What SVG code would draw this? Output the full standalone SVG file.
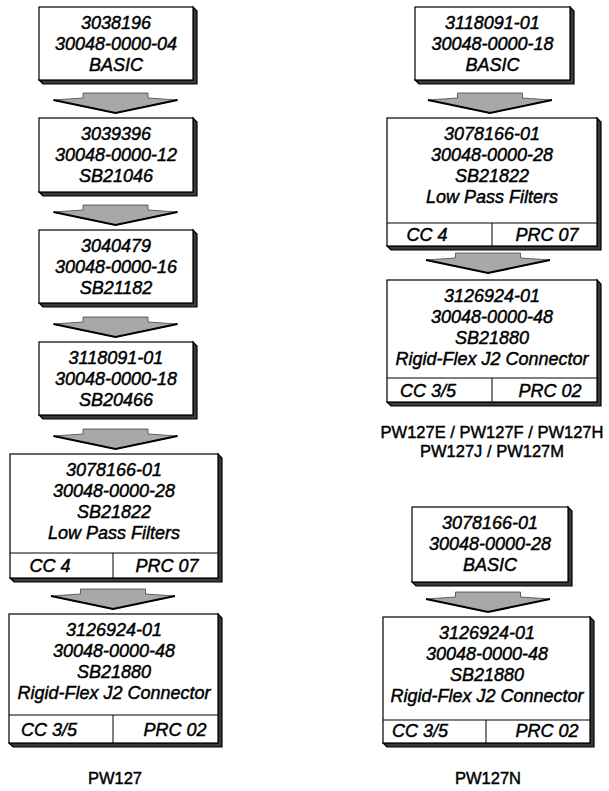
<svg xmlns="http://www.w3.org/2000/svg" width="609" height="791" viewBox="0 0 609 791">
<style>
.bx{fill:#fff;stroke:#000;stroke-width:1.2}
.sh{fill:#3a3a3a;stroke:#000;stroke-width:1.2;stroke-linejoin:miter}
.dv{stroke:#000;stroke-width:1;fill:none}
.t{font-family:"Liberation Sans",Arial,sans-serif;font-style:italic;font-size:18px;fill:#000;stroke:#000;stroke-width:0.45;text-anchor:middle}
.lb{font-family:"Liberation Sans",Arial,sans-serif;font-size:16.5px;fill:#000;stroke:#000;stroke-width:0.45;text-anchor:middle}
.ar{fill:#a8a8a8;stroke:#444;stroke-width:0.8;stroke-linejoin:miter}
.ae{fill:none;stroke:#000;stroke-width:2}
</style>
<rect width="609" height="791" fill="#fff"/>

<g id="connectors">
  <g transform="translate(115.5,93)"><path class="ar" d="M-32.5,0 H32.5 V5 L62,7 L0,20 L-62,7 L-32.5,5 Z"/><path class="ae" d="M-62,7 L0,20 L62,7"/></g>
  <g transform="translate(115.5,205)"><path class="ar" d="M-32.5,0 H32.5 V5 L62,7 L0,20 L-62,7 L-32.5,5 Z"/><path class="ae" d="M-62,7 L0,20 L62,7"/></g>
  <g transform="translate(115.5,317)"><path class="ar" d="M-32.5,0 H32.5 V5 L62,7 L0,20 L-62,7 L-32.5,5 Z"/><path class="ae" d="M-62,7 L0,20 L62,7"/></g>
  <g transform="translate(115.5,429)"><path class="ar" d="M-32.5,0 H32.5 V5 L62,7 L0,20 L-62,7 L-32.5,5 Z"/><path class="ae" d="M-62,7 L0,20 L62,7"/></g>
  <g transform="translate(113,589)"><path class="ar" d="M-32.5,0 H32.5 V5 L62,7 L0,20 L-62,7 L-32.5,5 Z"/><path class="ae" d="M-62,7 L0,20 L62,7"/></g>
  <g transform="translate(490,93)"><path class="ar" d="M-32.5,0 H32.5 V5 L62,7 L0,20 L-62,7 L-32.5,5 Z"/><path class="ae" d="M-62,7 L0,20 L62,7"/></g>
  <g transform="translate(488,253)"><path class="ar" d="M-32.5,0 H32.5 V5 L62,7 L0,20 L-62,7 L-32.5,5 Z"/><path class="ae" d="M-62,7 L0,20 L62,7"/></g>
  <g transform="translate(488,592)"><path class="ar" d="M-32.5,0 H32.5 V5 L62,7 L0,20 L-62,7 L-32.5,5 Z"/><path class="ae" d="M-62,7 L0,20 L62,7"/></g>
</g>

<g id="n1">
  <polygon class="sh" points="193,7 197,11 197,84 43,84 39,80 193,80"/>
  <rect class="bx" x="39" y="7" width="154" height="73"/>
  <text class="t" x="116" y="29">3038196</text>
  <text class="t" x="116" y="50">30048-0000-04</text>
  <text class="t" x="116" y="71">BASIC</text>
</g>
<g id="n2">
  <polygon class="sh" points="193,118 197,122 197,196 43,196 39,192 193,192"/>
  <rect class="bx" x="39" y="118" width="154" height="74"/>
  <text class="t" x="116" y="140">3039396</text>
  <text class="t" x="116" y="161">30048-0000-12</text>
  <text class="t" x="116" y="182">SB21046</text>
</g>
<g id="n3">
  <polygon class="sh" points="193,230 197,234 197,307 43,307 39,303 193,303"/>
  <rect class="bx" x="39" y="230" width="154" height="73"/>
  <text class="t" x="116" y="252">3040479</text>
  <text class="t" x="116" y="273">30048-0000-16</text>
  <text class="t" x="116" y="294">SB21182</text>
</g>
<g id="n4">
  <polygon class="sh" points="193,342 197,346 197,419 43,419 39,415 193,415"/>
  <rect class="bx" x="39" y="342" width="154" height="73"/>
  <text class="t" x="116" y="364">3118091-01</text>
  <text class="t" x="116" y="385">30048-0000-18</text>
  <text class="t" x="116" y="406">SB20466</text>
</g>
<g id="n5">
  <polygon class="sh" points="218,454 222,458 222,582 14,582 10,578 218,578"/>
  <rect class="bx" x="10" y="454" width="208" height="124"/>
  <line class="dv" x1="10" y1="553" x2="218" y2="553"/>
  <line class="dv" x1="113" y1="553" x2="113" y2="578"/>
  <text class="t" x="114" y="476">3078166-01</text>
  <text class="t" x="114" y="497">30048-0000-28</text>
  <text class="t" x="114" y="518">SB21822</text>
  <text class="t" x="114" y="539">Low Pass Filters</text>
  <text class="t" x="50" y="572">CC 4</text>
  <text class="t" x="167" y="572">PRC 07</text>
</g>
<g id="n6">
  <polygon class="sh" points="218,614 222,618 222,747 13,747 9,743 218,743"/>
  <rect class="bx" x="9" y="614" width="209" height="129"/>
  <line class="dv" x1="9" y1="715" x2="218" y2="715"/>
  <line class="dv" x1="113" y1="715" x2="113" y2="743"/>
  <text class="t" x="114" y="636">3126924-01</text>
  <text class="t" x="114" y="657">30048-0000-48</text>
  <text class="t" x="114" y="678">SB21880</text>
  <text class="t" x="114" y="699">Rigid-Flex J2 Connector</text>
  <text class="t" x="49" y="736">CC 3/5</text>
  <text class="t" x="175" y="736">PRC 02</text>
</g>
<g id="lbl1">
  <text class="lb" x="115" y="784">PW127</text>
</g>

<g id="r1">
  <polygon class="sh" points="570,7 574,11 574,84 419,84 415,80 570,80"/>
  <rect class="bx" x="415" y="7" width="155" height="73"/>
  <text class="t" x="492.5" y="29">3118091-01</text>
  <text class="t" x="492.5" y="50">30048-0000-18</text>
  <text class="t" x="492.5" y="71">BASIC</text>
</g>
<g id="r2">
  <polygon class="sh" points="597,118 601,122 601,250 391,250 387,246 597,246"/>
  <rect class="bx" x="387" y="118" width="210" height="128"/>
  <line class="dv" x1="387" y1="223" x2="597" y2="223"/>
  <line class="dv" x1="492" y1="223" x2="492" y2="246"/>
  <text class="t" x="492" y="140">3078166-01</text>
  <text class="t" x="492" y="161">30048-0000-28</text>
  <text class="t" x="492" y="182">SB21822</text>
  <text class="t" x="492" y="203">Low Pass Filters</text>
  <text class="t" x="427" y="241">CC 4</text>
  <text class="t" x="547" y="241">PRC 07</text>
</g>
<g id="r3">
  <polygon class="sh" points="597,280 601,284 601,406 391,406 387,402 597,402"/>
  <rect class="bx" x="387" y="280" width="210" height="122"/>
  <line class="dv" x1="387" y1="378" x2="597" y2="378"/>
  <line class="dv" x1="492" y1="378" x2="492" y2="402"/>
  <text class="t" x="492" y="302">3126924-01</text>
  <text class="t" x="492" y="323">30048-0000-48</text>
  <text class="t" x="492" y="344">SB21880</text>
  <text class="t" x="492" y="365">Rigid-Flex J2 Connector</text>
  <text class="t" x="428" y="397">CC 3/5</text>
  <text class="t" x="550" y="397">PRC 02</text>
</g>
<g id="lbl2">
  <text class="lb" x="492" y="438">PW127E / PW127F / PW127H</text>
  <text class="lb" x="492" y="457">PW127J / PW127M</text>
</g>
<g id="r4">
  <polygon class="sh" points="568,507 572,511 572,586 416,586 412,582 568,582"/>
  <rect class="bx" x="412" y="507" width="156" height="75"/>
  <text class="t" x="490" y="529">3078166-01</text>
  <text class="t" x="490" y="550">30048-0000-28</text>
  <text class="t" x="490" y="571">BASIC</text>
</g>
<g id="r5">
  <polygon class="sh" points="590,617 594,621 594,747 387,747 383,743 590,743"/>
  <rect class="bx" x="383" y="617" width="207" height="126"/>
  <line class="dv" x1="383" y1="720" x2="590" y2="720"/>
  <line class="dv" x1="486" y1="720" x2="486" y2="743"/>
  <text class="t" x="487" y="639">3126924-01</text>
  <text class="t" x="487" y="660">30048-0000-48</text>
  <text class="t" x="487" y="681">SB21880</text>
  <text class="t" x="487" y="702">Rigid-Flex J2 Connector</text>
  <text class="t" x="420" y="737">CC 3/5</text>
  <text class="t" x="547" y="737">PRC 02</text>
</g>
<g id="lbl3">
  <text class="lb" x="488" y="784">PW127N</text>
</g>
</svg>
